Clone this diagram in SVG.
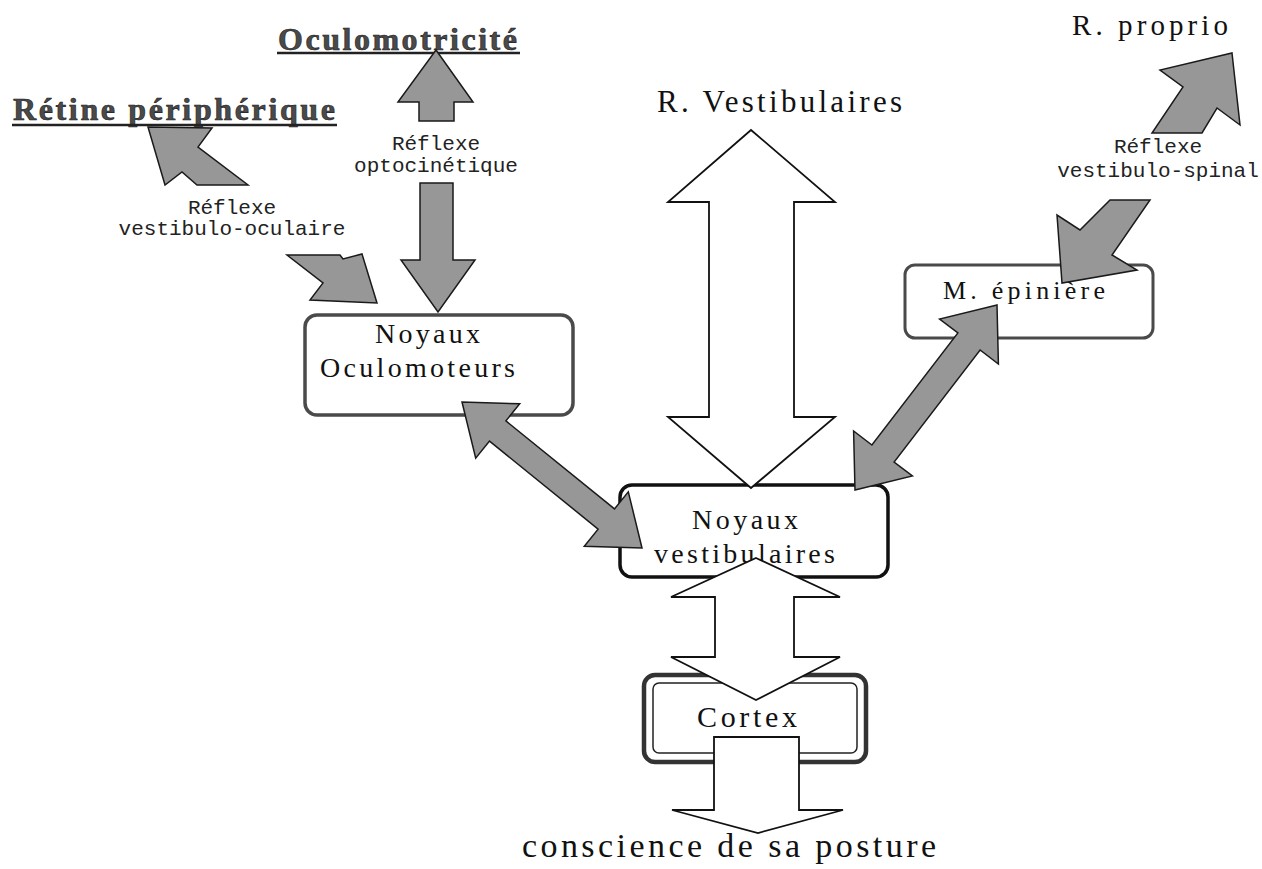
<svg xmlns="http://www.w3.org/2000/svg" width="1262" height="869" viewBox="0 0 1262 869">
<style>
.serif{font-family:"Liberation Serif","Times New Roman",serif;fill:#111}
.title{font-family:"Liberation Serif","Times New Roman",serif;font-weight:bold;fill:#4a4a4a;stroke:#1a1a1a;stroke-width:0.6}
.mono{font-family:"Liberation Mono","Courier New",monospace;font-size:21px;fill:#222;text-anchor:middle}
.grey{fill:#979797;stroke:#1a1a1a;stroke-width:1.5;stroke-linejoin:miter}
.white{fill:#fff;stroke:#111;stroke-width:1.8;stroke-linejoin:miter}
.box{fill:#fff}
.uline{stroke:#222;stroke-width:2.5}
</style>
<rect width="1262" height="869" fill="#fff"/>

<g id="retine">
<text class="title" x="13" y="120" font-size="32" textLength="322" lengthAdjust="spacing">Rétine périphérique</text>
<line class="uline" x1="12" y1="125" x2="337" y2="125"/>
</g>
<g id="oculomotricite">
<text class="title" x="278" y="50" font-size="32" textLength="239" lengthAdjust="spacing">Oculomotricité</text>
<line class="uline" x1="277" y1="53" x2="520" y2="53"/>
</g>
<g id="r-vestibulaires">
<text class="serif" x="657" y="112" font-size="31" textLength="245" lengthAdjust="spacing">R. Vestibulaires</text>
</g>
<g id="r-proprio">
<text class="serif" x="1072" y="35" font-size="29" textLength="156" lengthAdjust="spacing">R. proprio</text>
</g>

<g id="noyaux-oculomoteurs">
<rect class="box" x="305" y="315" width="268" height="100" rx="12" stroke="#4a4a4a" stroke-width="3.5"/>
<text class="serif" x="375" y="343" font-size="28" textLength="105" lengthAdjust="spacing">Noyaux</text>
<text class="serif" x="320" y="377" font-size="28" textLength="195" lengthAdjust="spacing">Oculomoteurs</text>
</g>
<g id="m-epiniere">
<rect class="box" x="905" y="265" width="248" height="73" rx="10" stroke="#4a4a4a" stroke-width="3"/>
<text class="serif" x="943" y="299" font-size="26" textLength="162" lengthAdjust="spacing">M. épinière</text>
</g>
<g id="noyaux-vestibulaires">
<rect class="box" x="620" y="485" width="268" height="92" rx="12" stroke="#111" stroke-width="3.5"/>
<text class="serif" x="692" y="529" font-size="28" textLength="106" lengthAdjust="spacing">Noyaux</text>
<text class="serif" x="654" y="563" font-size="28" textLength="181" lengthAdjust="spacing">vestibulaires</text>
</g>
<g id="cortex">
<rect class="box" x="644" y="675" width="222" height="87" rx="11" stroke="#333" stroke-width="4.5"/>
<rect x="653" y="683" width="204" height="70" rx="6" fill="none" stroke="#222" stroke-width="1.5"/>
<text class="serif" x="697" y="727" font-size="30" textLength="100" lengthAdjust="spacing">Cortex</text>
</g>
<g id="conscience">
<text class="serif" x="522" y="857" font-size="34" textLength="414" lengthAdjust="spacing">conscience de sa posture</text>
</g>

<g id="labels">
<text class="mono" x="232" y="214">Réflexe</text>
<text class="mono" x="232" y="235">vestibulo-oculaire</text>
<text class="mono" x="436" y="150">Réflexe</text>
<text class="mono" x="436" y="172">optocinétique</text>
<text class="mono" x="1158" y="153">Réflexe</text>
<text class="mono" x="1158" y="177">vestibulo-spinal</text>
</g>

<g id="connectors">
<polygon class="grey" points="148,127 212,128 198,147 248,185 197,185 182,172 165,185"/>
<polygon class="grey" points="287,255 340,255 343,259 362,254 377,303 310,300 323,283"/>
<polygon class="grey" points="436,50 473,102 454,102 454,121 419,121 419,102 398,102"/>
<polygon class="grey" points="420,183 453,183 453,260 475,260 438,312 401,260 420,260"/>
<polygon class="grey" points="1232,53 1240,125 1217,108 1202,133 1152,133 1183,87 1160,70"/>
<polygon class="grey" points="1110,200 1150,200 1112,255 1137,270 1062,283 1057,215 1080,230"/>
<polygon class="grey" points="462,402 475.7,458.2 489.5,441.1 598.1,529.1 584.3,546.2 642,548 628.3,491.8 614.5,508.9 505.9,420.9 519.7,403.8"/>
<polygon class="grey" points="997,305 939.6,319 957.9,333 871.9,445 853.6,431 855,490 912.4,476 894.1,462 980.1,350 998.4,364"/>
<polygon class="white" points="751,130 835,202 794,202 794,417 835,417 751,488 668,417 709,417 709,202 668,202"/>
<polygon class="white" points="756,558 840,597 794,597 794,657 840,657 756,700 671,657 715,657 715,597 671,597"/>
<polygon class="white" points="714,737 799,737 799,810 843,810 758,833 672,810 714,810"/>
</g>
</svg>
